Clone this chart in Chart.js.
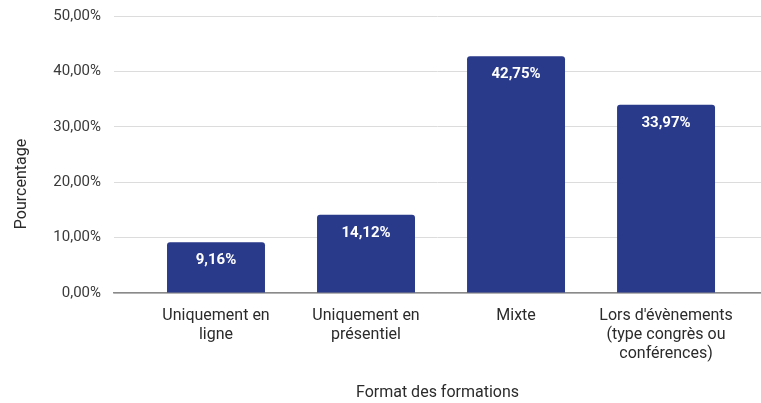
<!DOCTYPE html>
<html lang="fr">
  <head>
  <meta charset="utf-8">
  <title>Format des formations</title>
  <script src="https://cdn.jsdelivr.net/npm/chart.js@4.4.0/dist/chart.umd.min.js"></script>
  <style>
    html, body{
      margin: 0;
      padding: 0;
      background: #fff;
    }
    #wrap{
      width: 761px;
      height: 403px;
    }
  </style>
  </head>
  <body>
    <div id="wrap"><canvas id="myChart" width="761" height="403"></canvas></div>
  <script>
    // données
    const categories = [
      ["Uniquement en", "ligne"],
      ["Uniquement en", "présentiel"],
      ["Mixte"],
      ["Lors d'évènements", "(type congrès ou", "conférences)"]
    ];
    const values = [9.16, 14.12, 42.75, 33.97];
    const yTicks = [0, 10, 20, 30, 40, 50];
    const xTitle = "Format des formations";
    const yTitle = "Pourcentage";

    const fmt = (v, d) => v.toFixed(d).replace(".", ",") + "%";
    const FONT = "Roboto, 'Noto Sans', sans-serif";

    // étiquettes blanches en haut des barres
    const barLabels = {
      id: "barLabels",
      afterDatasetsDraw(chart){
        const ctx = chart.ctx;
        const meta = chart.getDatasetMeta(0);
        ctx.save();
        ctx.fillStyle = "#fff";
        ctx.font = "bold 15px " + FONT;
        ctx.textAlign = "center";
        ctx.textBaseline = "middle";
        meta.data.forEach((bar, i) => {
          ctx.fillText(fmt(values[i], 2), bar.x, bar.y + 18);
        });
        ctx.restore();
      }
    };

    // titre vertical (un peu plus bas que le centre, comme l'original)
    const yTitlePlugin = {
      id: "yTitlePlugin",
      afterDraw(chart){
        const ctx = chart.ctx;
        ctx.save();
        ctx.translate(22, 184);
        ctx.rotate(-Math.PI / 2);
        ctx.fillStyle = "#2b2b2b";
        ctx.font = "16px " + FONT;
        ctx.textAlign = "center";
        ctx.textBaseline = "middle";
        ctx.fillText(yTitle, 0, 0);
        ctx.restore();
      }
    };

    Chart.defaults.font.family = FONT;
    Chart.defaults.plugins.legend.display = false;
    Chart.defaults.plugins.tooltip.enabled = false;

    const data = {
      datasets: [{
        data: values.map((v, i) => ({x: i, y: v})),
        backgroundColor: "#2a3a8b",
        borderWidth: 0,
        borderRadius: 3,
        borderSkipped: "bottom",
        categoryPercentage: 1,
        barPercentage: 0.653
      }]
    };

    const config = {
      type: "bar",
      data: data,
      plugins: [barLabels, yTitlePlugin],
      options: {
        responsive: false,
        animation: false,
        layout: { padding: { top: 16, right: 0, left: 0, bottom: 0 } },
        scales: {
          x: {
            type: "linear",
            offset: false,
            min: -0.68,
            max: 3.633,
            afterBuildTicks: s => { s.ticks = categories.map((c, i) => ({value: i})); },
            afterFit: s => { s.height = 110; s.paddingLeft = 0; s.paddingRight = 0; },
            grid: { display: false, offset: false },
            border: { display: true, color: "#8a8a8a", width: 1.5 },
            ticks: {
              autoSkip: false,
              maxRotation: 0,
              padding: 6,
              color: "#2b2b2b",
              font: { size: 16, lineHeight: 1.18 },
              callback: v => categories[v]
            },
            title: {
              display: true,
              text: xTitle,
              color: "#2b2b2b",
              font: { size: 16 },
              padding: { top: 0, bottom: 0 }
            }
          },
          y: {
            min: 0,
            max: 50,
            afterBuildTicks: s => { s.ticks = yTicks.map(v => ({value: v})); },
            afterFit: s => { s.width = 114; s.paddingTop = 0; s.paddingBottom = 0; },
            border: { display: false },
            grid: {
              color: "#dcdcdc",
              lineWidth: 1,
              drawTicks: false
            },
            ticks: {
              padding: 13,
              color: "#3a3a3a",
              font: { size: 15 },
              callback: v => fmt(v, 2)
            }
          }
        }
      }
    };

    const myChart = new Chart(document.getElementById("myChart"), config);
  </script>
  </body>
</html>
